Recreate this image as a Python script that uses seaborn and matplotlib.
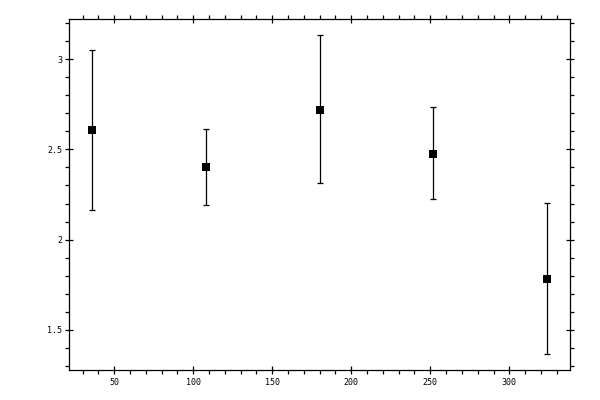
import matplotlib
matplotlib.use('Agg')
import matplotlib.pyplot as plt
from matplotlib.ticker import MultipleLocator, FuncFormatter
import seaborn as sns
import pandas as pd

# valores
x_vals = [36, 108, 180, 252, 324]
y_vals = [2.61, 2.405, 2.72, 2.477, 1.783]
err_low = [0.446, 0.212, 0.407, 0.251, 0.417]
err_high = [0.44, 0.206, 0.413, 0.256, 0.418]

df = pd.DataFrame({'x': x_vals, 'y': y_vals})

sns.set_style('ticks')
plt.rcParams['font.family'] = ['DejaVu Sans Mono', 'DejaVu Sans']

fig = plt.figure(figsize=(6, 4), dpi=100)
ax = fig.add_axes([0.1155, 0.075, 0.8345, 0.877])

ax.errorbar(df['x'], df['y'], yerr=[err_low, err_high], fmt='none',
            ecolor='black', elinewidth=0.9, capsize=2.2, capthick=0.9)
sns.scatterplot(data=df, x='x', y='y', marker='s', color='black',
                s=30, edgecolor='black', linewidth=0, ax=ax, zorder=3)

ax.set_xlabel('')
ax.set_ylabel('')
ax.xaxis.set_major_locator(MultipleLocator(50))
ax.xaxis.set_minor_locator(MultipleLocator(10))
ax.yaxis.set_major_locator(MultipleLocator(0.5))
ax.yaxis.set_minor_locator(MultipleLocator(0.1))
ax.yaxis.set_major_formatter(FuncFormatter(lambda v, p: '%g' % v))

for s in ax.spines.values():
    s.set_visible(True)
    s.set_linewidth(0.9)
    s.set_color('black')

ax.tick_params(which='major', direction='inout', length=6, width=0.9,
               top=True, right=True, labelsize=6, colors='black')
ax.tick_params(axis='x', which='major', pad=2.5)
ax.tick_params(axis='y', which='major', pad=2)
ax.tick_params(which='minor', direction='out', length=3, width=0.9,
               top=True, right=True, colors='black')

fig.savefig('out.png', dpi=100)
